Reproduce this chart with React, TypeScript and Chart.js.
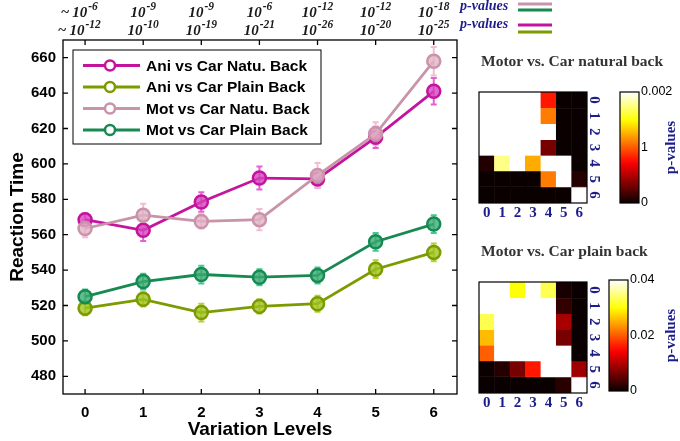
import React, { useEffect, useRef } from 'react';
import { Chart, registerables } from 'chart.js';

Chart.register(...registerables);

// variation levels on the x axis
const levels = [0, 1, 2, 3, 4, 5, 6];
const rtTicks = [480, 500, 520, 540, 560, 580, 600, 620, 640, 660];

// mean reaction times and error bars
const aniNatural = [568.5, 562.5, 578.5, 592, 591.5, 615, 641];
const aniNaturalErr = [3.5, 6, 5.5, 6.5, 5, 6, 7.5];
const aniPlain = [518.5, 523.5, 516, 519.5, 521, 540.5, 550];
const aniPlainErr = [4, 4, 5, 4, 4.5, 5, 5];
const motNatural = [563.5, 571, 567.5, 568.5, 593.5, 617, 658];
const motNaturalErr = [5, 6.5, 4, 6, 7, 6.5, 8];
const motPlain = [525, 533.5, 537.5, 536, 537, 556, 566];
const motPlainErr = [4, 4.5, 5, 4.5, 4.5, 5, 5];

// p-value exponents printed above each level (10^x)
const pExpMot = ['-6', '-9', '-9', '-6', '-12', '-12', '-18'];
const pExpAni = ['-12', '-10', '-19', '-21', '-26', '-20', '-25'];

// pairwise p-values between levels (rows top to bottom, cols left to right)
const natBackP = [
  [0.002, 0.002, 0.002, 0.002, 0.0008, 0, 0],
  [0.002, 0.002, 0.002, 0.002, 0.0011, 0, 0],
  [0.002, 0.002, 0.002, 0.002, 0.002, 0, 0],
  [0.002, 0.002, 0.002, 0.002, 0.00032, 0, 0],
  [0.00007, 0.00176, 0.002, 0.00124, 0.002, 0.002, 0],
  [0, 0, 0, 0, 0.0011, 0.002, 0.00008],
  [0, 0, 0, 0, 0, 0, 0.002],
];
const plainBackP = [
  [0.04, 0.04, 0.03, 0.04, 0.033, 0.0008, 0],
  [0.04, 0.04, 0.04, 0.04, 0.04, 0.0024, 0],
  [0.033, 0.04, 0.04, 0.04, 0.04, 0.0094, 0],
  [0.0258, 0.04, 0.04, 0.04, 0.04, 0.0065, 0],
  [0.0203, 0.04, 0.04, 0.04, 0.04, 0.04, 0],
  [0, 0.0015, 0.0065, 0.016, 0.04, 0.04, 0.0088],
  [0, 0, 0, 0, 0, 0.0018, 0.04],
];
const natBackMax = 0.002;
const plainBackMax = 0.04;
const natBarTicks = ['0', '1', '0.002'];
const plainBarTicks = ['0', '0.02', '0.04'];

const NAVY = '#1c1c8a';
const SANS = '"Liberation Sans", Arial, sans-serif';
const SERIF = '"Liberation Serif", "Times New Roman", serif';

// matlab "hot" colormap
const hot = (f: number) => {
  const k = Math.max(0, Math.min(1, f)) * 63 + 1;
  const r = Math.min(1, k / 24);
  const g = Math.max(0, Math.min(1, (k - 24) / 24));
  const b = Math.max(0, Math.min(1, (k - 48) / 16));
  return `rgb(${Math.round(r * 255)},${Math.round(g * 255)},${Math.round(b * 255)})`;
};

const errorBars = {
  id: 'errorBars',
  beforeDatasetsDraw(chart: any) {
    const { ctx, scales } = chart;
    ctx.save();
    chart.data.datasets.forEach((ds: any, i: number) => {
      const meta = chart.getDatasetMeta(i);
      ctx.strokeStyle = ds.errorColor;
      ctx.lineWidth = 2;
      meta.data.forEach((pt: any, j: number) => {
        const v = ds.data[j].y;
        const e = ds.errors[j];
        const y1 = scales.y.getPixelForValue(v - e);
        const y2 = scales.y.getPixelForValue(v + e);
        ctx.beginPath();
        ctx.moveTo(pt.x, y1); ctx.lineTo(pt.x, y2);
        ctx.moveTo(pt.x - 3, y1); ctx.lineTo(pt.x + 3, y1);
        ctx.moveTo(pt.x - 3, y2); ctx.lineTo(pt.x + 3, y2);
        ctx.stroke();
      });
    });
    ctx.restore();
  },
};

const frame = {
  id: 'frame',
  afterDraw(chart: any) {
    const { ctx, chartArea: a, scales } = chart;
    ctx.save();
    ctx.strokeStyle = '#000';
    ctx.lineWidth = 1.3;
    ctx.strokeRect(a.left, a.top, a.right - a.left, a.bottom - a.top);
    ctx.beginPath();
    scales.x.ticks.forEach((t: any) => {
      const p = scales.x.getPixelForValue(t.value);
      ctx.moveTo(p, a.bottom); ctx.lineTo(p, a.bottom - 5);
      ctx.moveTo(p, a.top); ctx.lineTo(p, a.top + 5);
    });
    scales.y.ticks.forEach((t: any) => {
      const p = scales.y.getPixelForValue(t.value);
      ctx.moveTo(a.left, p); ctx.lineTo(a.left + 5, p);
      ctx.moveTo(a.right, p); ctx.lineTo(a.right - 5, p);
    });
    ctx.stroke();

    // p-values printed above the levels
    const drawPow = (x: number, base: number, exp: string, prefix: string) => {
      ctx.font = `italic bold 15px ${SERIF}`;
      const w1 = ctx.measureText('10').width;
      ctx.font = `italic bold 11.5px ${SERIF}`;
      const w2 = ctx.measureText(exp).width;
      const x0 = x - (w1 + w2 + 1) / 2;
      ctx.fillStyle = '#1a1a1a';
      ctx.textBaseline = 'alphabetic';
      ctx.textAlign = 'left';
      ctx.font = `italic bold 15px ${SERIF}`;
      ctx.fillText('10', x0, base);
      if (prefix) {
        ctx.textAlign = 'right';
        ctx.fillText(prefix, x0 - 3, base);
        ctx.textAlign = 'left';
      }
      ctx.font = `italic bold 11.5px ${SERIF}`;
      ctx.fillText(exp, x0 + w1 + 1, base - 7);
    };
    levels.forEach((lv, i) => {
      const x = scales.x.getPixelForValue(lv);
      drawPow(x, a.top - 23, pExpMot[i], i === 0 ? '~' : '');
      drawPow(x, a.top - 5, pExpAni[i], i === 0 ? '~' : '');
    });

    // p-values key, top right
    const ds = chart.data.datasets;
    const keyRows = [
      { base: a.top - 30, lines: [ds[2].borderColor, ds[3].borderColor], off: [-6, 0] },
      { base: a.top - 12, lines: [ds[0].borderColor, ds[1].borderColor], off: [-3, 4] },
    ];
    keyRows.forEach((r) => {
      ctx.font = `italic bold 14px ${SERIF}`;
      ctx.fillStyle = NAVY;
      ctx.textAlign = 'left';
      ctx.fillText('p-values', a.right + 3, r.base);
      ctx.lineWidth = 2.8;
      r.lines.forEach((c: string, k: number) => {
        ctx.strokeStyle = c;
        ctx.beginPath();
        ctx.moveTo(a.right + 61, r.base + r.off[k]);
        ctx.lineTo(a.right + 95, r.base + r.off[k]);
        ctx.stroke();
      });
    });
    ctx.restore();
  },
};

const lineLegend = {
  id: 'lineLegend',
  afterDatasetsDraw(chart: any) {
    const { ctx, chartArea: a } = chart;
    const ds = chart.data.datasets;
    const x0 = a.left + 10;
    const y0 = a.top + 10;
    const rowH = 21.5;
    const w = 248;
    const h = ds.length * rowH + 8;
    ctx.save();
    ctx.fillStyle = '#fff';
    ctx.fillRect(x0, y0, w, h);
    ctx.strokeStyle = '#000';
    ctx.lineWidth = 1;
    ctx.strokeRect(x0, y0, w, h);
    ds.forEach((d: any, i: number) => {
      const y = y0 + 15.5 + i * rowH;
      ctx.strokeStyle = d.borderColor;
      ctx.lineWidth = 3;
      ctx.beginPath();
      ctx.moveTo(x0 + 10, y); ctx.lineTo(x0 + 67, y);
      ctx.stroke();
      ctx.beginPath();
      ctx.arc(x0 + 37, y, 5, 0, Math.PI * 2);
      ctx.fillStyle = '#fff';
      ctx.fill();
      ctx.lineWidth = 2.5;
      ctx.stroke();
      ctx.fillStyle = '#000';
      ctx.font = `bold 15.5px ${SANS}`;
      ctx.textBaseline = 'middle';
      ctx.fillText(d.label, x0 + 73, y + 1);
    });
    ctx.restore();
  },
};

const toPoints = (vals: number[]) => levels.map((x, i) => ({ x, y: vals[i] }));

const series = (label: string, vals: number[], errs: number[], color: string, fill: string, errColor: string, order: number) => ({
  label,
  data: toPoints(vals),
  errors: errs,
  errorColor: errColor,
  borderColor: color,
  backgroundColor: color,
  pointBackgroundColor: fill,
  pointBorderColor: color,
  pointBorderWidth: 2.5,
  pointRadius: 6.5,
  borderWidth: 2.8,
  order,
});

const MainChart: React.FC = () => {
  const canvasRef = useRef<HTMLCanvasElement>(null);

  useEffect(() => {
    const ctx = canvasRef.current?.getContext('2d');
    if (!ctx) return;
    const chart = new Chart(ctx, {
      type: 'line',
      data: {
        datasets: [
          series('Ani vs Car Natu. Back', aniNatural, aniNaturalErr, '#c4149e', 'rgba(214,70,190,0.8)', '#e660d2', 2),
          series('Ani vs Car Plain Back', aniPlain, aniPlainErr, '#7b9b00', 'rgba(160,195,30,0.8)', '#b2d232', 3),
          series('Mot vs Car Natu. Back', motNatural, motNaturalErr, '#c993a9', 'rgba(225,180,198,0.8)', '#f2bdd3', 0),
          series('Mot vs Car Plain Back', motPlain, motPlainErr, '#178a52', 'rgba(60,170,115,0.8)', '#44c892', 1),
        ] as any,
      },
      options: {
        responsive: false,
        animation: false,
        layout: { padding: { top: 40, right: 223, left: 0, bottom: 0 } },
        plugins: { legend: { display: false }, tooltip: { enabled: false } },
        scales: {
          x: {
            type: 'linear',
            min: -0.38,
            max: 6.4,
            grid: { display: false, drawTicks: false },
            border: { display: false },
            afterBuildTicks: (s: any) => { s.ticks = levels.map((v) => ({ value: v })); },
            afterFit: (s: any) => { s.height = 47; },
            ticks: { font: { family: SANS, size: 15, weight: 'bold' }, color: '#000', padding: 10 },
            title: {
              display: true,
              text: 'Variation Levels',
              font: { family: SANS, size: 19, weight: 'bold' },
              color: '#000',
              padding: { top: 0, bottom: 0 },
            },
          },
          y: {
            min: 470,
            max: 670,
            grid: { display: false, drawTicks: false },
            border: { display: false },
            afterBuildTicks: (s: any) => { s.ticks = rtTicks.map((v) => ({ value: v })); },
            afterFit: (s: any) => { s.width = 63; },
            ticks: { font: { family: SANS, size: 15, weight: 'bold' }, color: '#000', padding: 7 },
            title: {
              display: true,
              text: 'Reaction Time',
              font: { family: SANS, size: 19, weight: 'bold' },
              color: '#000',
              padding: { top: 6, bottom: 0 },
            },
          },
        },
      } as any,
      plugins: [errorBars, frame, lineLegend],
    });
    return () => chart.destroy();
  }, []);

  return <canvas ref={canvasRef} width={680} height={441} style={{ position: 'absolute', left: 0, top: 0 }} />;
};

interface HeatmapProps {
  title: string;
  values: number[][];
  maxVal: number;
  left: number;
  top: number;
}

const HeatmapChart: React.FC<HeatmapProps> = ({ title, values, maxVal, left, top }) => {
  const canvasRef = useRef<HTMLCanvasElement>(null);

  useEffect(() => {
    const ctx = canvasRef.current?.getContext('2d');
    if (!ctx) return;
    const deco = {
      id: 'heatDeco',
      afterDraw(chart: any) {
        const { ctx: c, chartArea: a, scales } = chart;
        c.save();
        c.strokeStyle = '#000';
        c.lineWidth = 1.2;
        c.strokeRect(a.left, a.top, a.right - a.left, a.bottom - a.top);
        c.fillStyle = '#333';
        c.font = `bold 15.5px ${SERIF}`;
        c.textAlign = 'left';
        c.textBaseline = 'middle';
        c.fillText(title, a.left + 2, a.top - 30);
        c.fillStyle = NAVY;
        c.font = `bold 15px ${SERIF}`;
        c.textAlign = 'center';
        levels.forEach((lv) => {
          const y = scales.y.getPixelForValue(lv);
          c.save();
          c.translate(a.right + 7, y);
          c.rotate(Math.PI / 2);
          c.fillText(String(lv), 0, 0);
          c.restore();
        });
        c.restore();
      },
    };
    const chart = new Chart(ctx, {
      type: 'bar',
      data: {
        labels: levels.map(String),
        datasets: values.map((row, r) => ({
          data: row.map(() => [r - 0.5, r + 0.5]),
          backgroundColor: row.map((v) => hot(v / maxVal)),
          borderColor: row.map((v) => hot(v / maxVal)),
          borderWidth: 0.6,
          borderSkipped: false,
          barPercentage: 1,
          categoryPercentage: 1,
          grouped: false,
        })) as any,
      },
      options: {
        responsive: false,
        animation: false,
        layout: { padding: { left: 9, right: 83, top: 42, bottom: 0 } },
        plugins: { legend: { display: false }, tooltip: { enabled: false } },
        scales: {
          x: {
            grid: { display: false, drawTicks: false },
            border: { display: false },
            ticks: { font: { family: SERIF, size: 15, weight: 'bold' }, color: NAVY, padding: 1 },
            afterFit: (s: any) => { s.height = 22; },
          },
          y: { display: false, min: -0.5, max: 6.5, reverse: true },
        },
      } as any,
      plugins: [deco],
    });
    return () => chart.destroy();
  }, [title, values, maxVal]);

  return <canvas ref={canvasRef} width={200} height={175} style={{ position: 'absolute', left, top }} />;
};

interface ColorbarProps {
  maxVal: number;
  tickLabels: string[];
  left: number;
  top: number;
  titleX: number;
}

const ColorbarChart: React.FC<ColorbarProps> = ({ maxVal, tickLabels, left, top, titleX }) => {
  const canvasRef = useRef<HTMLCanvasElement>(null);

  useEffect(() => {
    const ctx = canvasRef.current?.getContext('2d');
    if (!ctx) return;
    const deco = {
      id: 'barDeco',
      afterDraw(chart: any) {
        const { ctx: c, chartArea: a } = chart;
        c.save();
        c.strokeStyle = '#000';
        c.lineWidth = 1.2;
        c.strokeRect(a.left, a.top, a.right - a.left, a.bottom - a.top);
        c.fillStyle = NAVY;
        c.font = `bold 15px ${SERIF}`;
        c.textAlign = 'center';
        c.textBaseline = 'middle';
        c.translate(titleX, (a.top + a.bottom) / 2);
        c.rotate(-Math.PI / 2);
        c.fillText('p-values', 0, 0);
        c.restore();
      },
    };
    const chart = new Chart(ctx, {
      type: 'bar',
      data: {
        labels: [''],
        datasets: [{
          data: [[0, maxVal]],
          barPercentage: 1,
          categoryPercentage: 1,
          borderWidth: 0,
          backgroundColor: (cx: any) => {
            const area = cx.chart.chartArea;
            if (!area) return '#000';
            const g = cx.chart.ctx.createLinearGradient(0, area.bottom, 0, area.top);
            for (let i = 0; i <= 20; i++) g.addColorStop(i / 20, hot(i / 20));
            return g;
          },
        }] as any,
      },
      options: {
        responsive: false,
        animation: false,
        layout: { padding: { left: 10, top: 12, bottom: 17, right: 16 } },
        plugins: { legend: { display: false }, tooltip: { enabled: false } },
        scales: {
          x: { display: false },
          y: {
            position: 'right',
            min: 0,
            max: maxVal,
            grid: { display: false, drawTicks: false },
            border: { display: false },
            afterBuildTicks: (s: any) => {
              s.ticks = tickLabels.map((_, i) => ({ value: (maxVal * i) / (tickLabels.length - 1) }));
            },
            afterFit: (s: any) => { s.width = 35; },
            ticks: {
              callback: (_v: any, i: number) => tickLabels[i],
              font: { family: SANS, size: 12.5 },
              color: '#000',
              padding: 2,
            },
          },
        },
      } as any,
      plugins: [deco],
    });
    return () => chart.destroy();
  }, [maxVal, tickLabels, titleX]);

  return <canvas ref={canvasRef} width={80} height={140} style={{ position: 'absolute', left, top }} />;
};

const App: React.FC = () => (
  <div style={{ position: 'fixed', left: 0, top: 0, width: 680, height: 441, background: '#fff', overflow: 'hidden' }}>
    <MainChart />
    <HeatmapChart title="Motor vs. Car natural back" values={natBackP} maxVal={natBackMax} left={470} top={50} />
    <ColorbarChart maxVal={natBackMax} tickLabels={natBarTicks} left={610} top={80} titleX={61} />
    <HeatmapChart title="Motor vs. Car plain back" values={plainBackP} maxVal={plainBackMax} left={470} top={240} />
    <ColorbarChart maxVal={plainBackMax} tickLabels={plainBarTicks} left={599} top={268} titleX={72} />
  </div>
);

export default App;
